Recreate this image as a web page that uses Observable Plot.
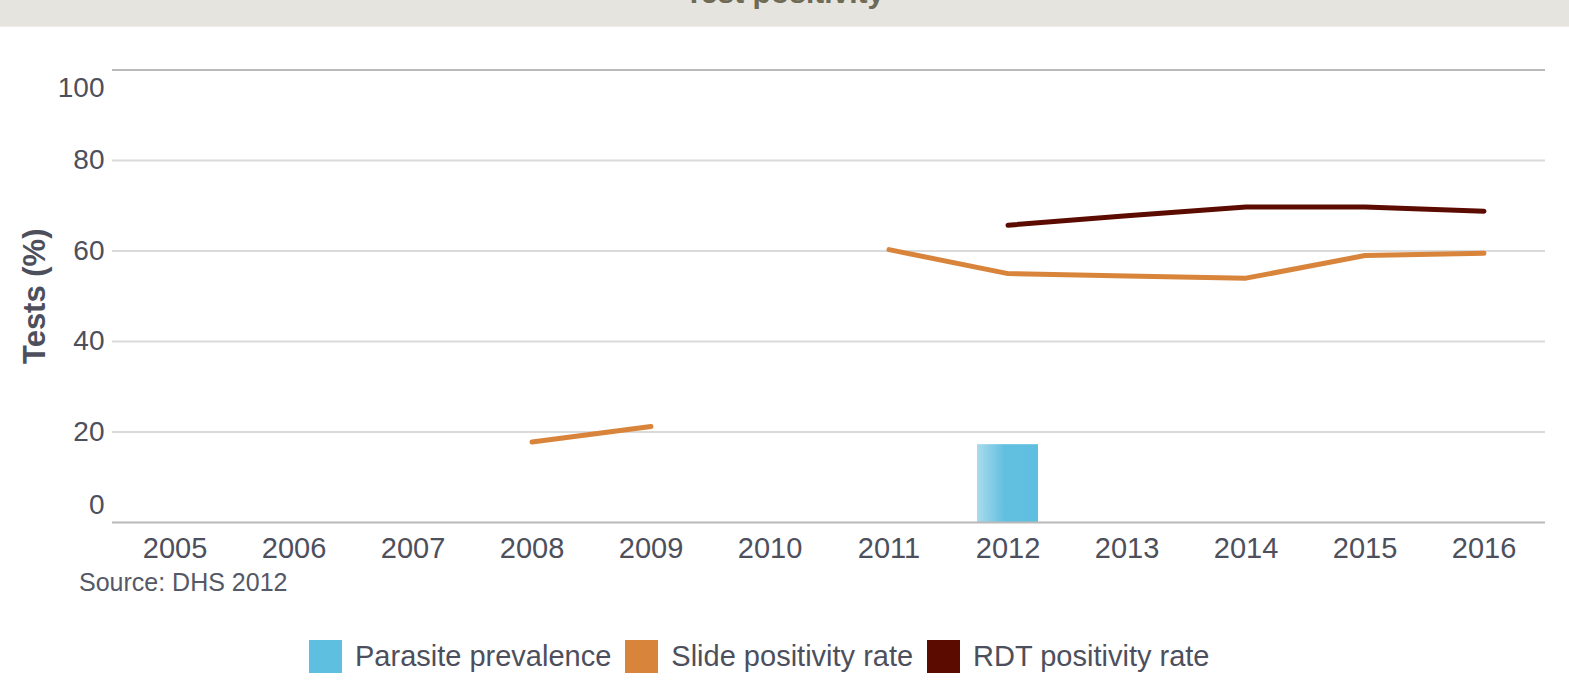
<!DOCTYPE html>
<html><head><meta charset="utf-8">
<script src="https://cdn.jsdelivr.net/npm/d3@7"></script>
<script src="https://cdn.jsdelivr.net/npm/@observablehq/plot@0.6"></script>
<style>
body{margin:0;background:#fff;font-family:"Liberation Sans",Arial,Helvetica,sans-serif;width:1569px;height:681px;overflow:hidden;position:relative}
#titlebar{position:absolute;left:0;top:0;width:1569px;height:26px;background:#e5e4de;border-bottom:1px solid #edece8;overflow:hidden}
#title{position:absolute;left:0;width:1569px;top:-22px;text-align:center;font-size:30px;line-height:30px;font-weight:bold;color:#6e6a55}
#chart{position:absolute;left:0;top:26px}
#source{position:absolute;left:79px;top:570px;font-size:25px;line-height:24px;color:#555866}
#legend{position:absolute;left:309px;top:640px;display:flex;align-items:center;font-size:29px;color:#4d4f5c}
.item{display:flex;align-items:center;margin-right:14px}
.sw{width:33px;height:33px;margin-right:13px}
</style></head><body>
<div id="titlebar"><div id="title">Test positivity</div></div>
<div id="chart"></div>
<div id="source">Source: DHS 2012</div>
<div id="legend"></div>
<script>
const years = ["2005","2006","2007","2008","2009","2010","2011","2012","2013","2014","2015","2016"];
const parasiteYears = ["2012"];
const parasite = [17.2];
const slide = [null,null,null,17.8,21.2,null,60.3,55.0,54.5,54.0,59.0,59.5];
const rdt = [null,null,null,null,null,null,null,65.7,67.8,69.7,69.7,68.8];
const yTicks = [0,20,40,60,80,100];
const seriesNames = ["Parasite prevalence","Slide positivity rate","RDT positivity rate"];
const seriesColors = ["#5fbfe0","#d9843b","#5c0b00"];

const parasiteData = parasiteYears.map((y,i)=>({year:y, value:parasite[i]}));
const slideData = years.map((y,i)=>({year:y, value:slide[i] ?? NaN}));
const rdtData = years.map((y,i)=>({year:y, value:rdt[i] ?? NaN}));

const tickColor = "#4d4f5c";
const plot = Plot.plot({
  width: 1569,
  height: 560,
  marginLeft: 112,
  marginRight: 24,
  marginTop: 43.5,
  marginBottom: 64,
  style: {fontFamily: '"Liberation Sans", Arial, sans-serif', background: "transparent"},
  x: {type: "band", domain: years, padding: 0},
  y: {domain: [0, 100], axis: null},
  marks: [
    Plot.ruleY([20,40,60,80], {stroke: "#dadada", strokeWidth: 2}),
    Plot.barY(parasiteData, {x: "year", y: "value", fill: "url(#pgrad)", insetLeft: 29, insetRight: 29}),
    Plot.ruleY([0,100], {stroke: "#b9b9b9", strokeWidth: 2}),
    Plot.lineY(slideData, {x: "year", y: "value", stroke: seriesColors[1], strokeWidth: 5, strokeLinecap: "round", strokeLinejoin: "round"}),
    Plot.lineY(rdtData, {x: "year", y: "value", stroke: seriesColors[2], strokeWidth: 5, strokeLinecap: "round", strokeLinejoin: "round"}),
    Plot.axisX({tickSize: 0, tickPadding: 15, fontSize: 29, color: tickColor, label: null}),
    Plot.text(yTicks.filter(d => d > 0 && d < 100), {y: d => d, text: d => String(d), frameAnchor: "left", textAnchor: "end", dx: -8, fontSize: 28, fill: tickColor}),
    Plot.text([100], {y: d => d, text: d => String(d), frameAnchor: "left", textAnchor: "end", dx: -8, dy: 18, fontSize: 28, fill: tickColor}),
    Plot.text([0], {y: d => d, text: d => String(d), frameAnchor: "left", textAnchor: "end", dx: -8, dy: -17, fontSize: 28, fill: tickColor}),
    Plot.text(["Tests (%)"], {frameAnchor: "left", textAnchor: "middle", rotate: -90, dx: -77, fontSize: 31, fontWeight: "bold", fill: tickColor})
  ]
});
d3.select(plot).insert("defs", ":first-child").html(
  '<linearGradient id="pgrad" x1="0" x2="1" y1="0" y2="0">' +
  '<stop offset="0" stop-color="#a9dbed"/><stop offset="0.45" stop-color="#62bfe0"/><stop offset="1" stop-color="#5fbfe0"/></linearGradient>');
document.getElementById("chart").appendChild(plot);

const legend = d3.select("#legend");
seriesNames.forEach((n,i) => {
  const it = legend.append("div").attr("class","item");
  it.append("div").attr("class","sw").style("background", seriesColors[i]);
  it.append("span").text(n);
});
</script>
</body></html>
